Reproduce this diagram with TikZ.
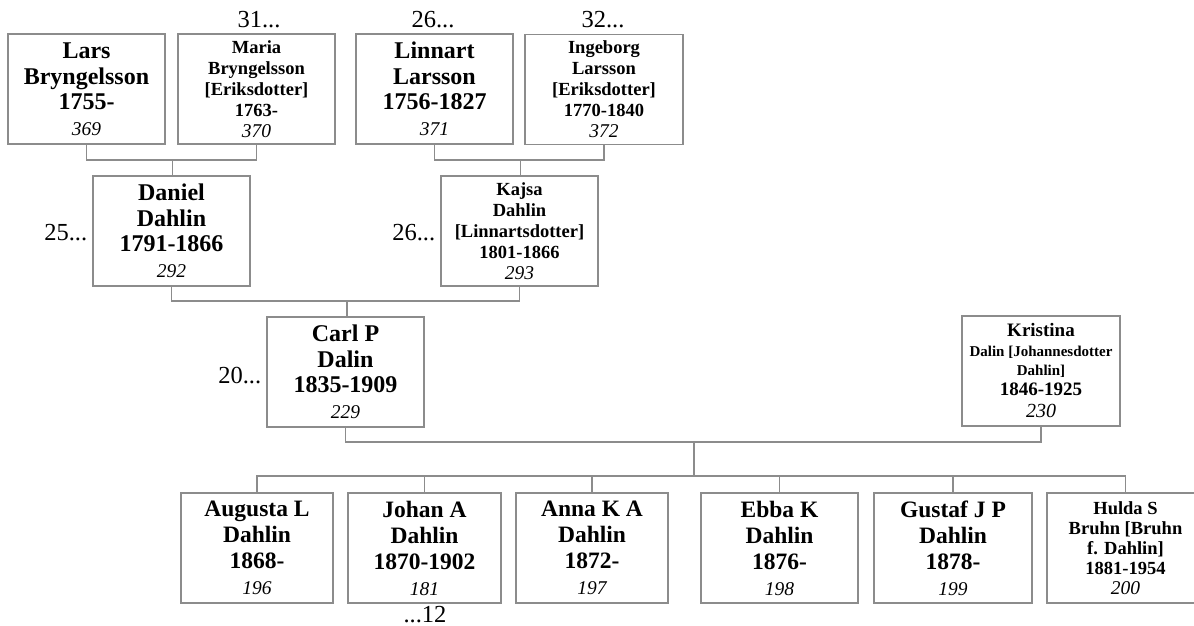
\documentclass[tikz,border=0pt]{standalone}
\usepackage{fontspec}
\setmainfont{Liberation Serif}
\definecolor{boxgray}{RGB}{140,140,140}
\newcommand{\pnum}[1]{{\fontsize{19.5}{19.5}\selectfont\itshape\mdseries #1}}
\newcommand{\pmid}[1]{{\fontsize{15}{17}\selectfont #1}}
\tikzset{
  person/.style={draw=boxgray, line width=1.3pt, rectangle, minimum height=110pt, inner sep=0pt, align=center},
  big/.style={person, font=\fontsize{24}{25.5}\selectfont\bfseries},
  kid/.style={person, font=\fontsize{23.5}{26}\selectfont\bfseries},
  small/.style={person, font=\fontsize{18.5}{21}\selectfont\bfseries},
  conn/.style={draw=boxgray, line width=1.3pt},
  ref/.style={inner sep=0pt, font=\fontsize{24.5}{24.5}\selectfont}
}
\begin{document}
\begin{tikzpicture}[x=1pt,y=-1pt]
\useasboundingbox (0,0) rectangle (1194,626);
\begin{scope}
\clip (0,0) rectangle (1194,626);
% top row
\node[big, minimum width=157pt] (lars) at (86.5,89) {Lars\\Bryngelsson\\1755-\\\pnum{369}};
\node[small, minimum width=157pt] (maria) at (256.5,89) {Maria\\Bryngelsson\\{[}Eriksdotter{]}\\1763-\\\pnum{370}};
\node[big, minimum width=157pt] (linnart) at (434.5,89) {Linnart\\Larsson\\1756-1827\\\pnum{371}};
\node[small, minimum width=158pt] (ingeborg) at (604,89.5) {Ingeborg\\Larsson\\{[}Eriksdotter{]}\\1770-1840\\\pnum{372}};
% second row
\node[big, minimum width=157pt] (daniel) at (171.5,231) {Daniel\\Dahlin\\1791-1866\\\pnum{292}};
\node[small, minimum width=157pt] (kajsa) at (519.5,231) {Kajsa\\Dahlin\\{[}Linnartsdotter{]}\\1801-1866\\\pnum{293}};
% third row
\node[big, minimum width=157pt] (carl) at (345.5,372) {Carl P\\Dalin\\1835-1909\\\pnum{229}};
\node[person, minimum width=158pt, font=\fontsize{19}{19.5}\selectfont\bfseries] (kristina) at (1041,371) {Kristina\\\pmid{Dalin [Johannesdotter}\\\pmid{Dahlin]}\\1846-1925\\[3pt]{\fontsize{20}{20}\selectfont\itshape\mdseries 230}};
% children
\node[kid, minimum width=152pt] (augusta) at (257,548) {Augusta L\\Dahlin\\1868-\\\pnum{196}};
\node[kid, minimum width=153pt] (johan) at (424.5,548) {Johan A\\Dahlin\\1870-1902\\\pnum{181}};
\node[kid, minimum width=152pt] (anna) at (592,548) {Anna K A\\Dahlin\\1872-\\\pnum{197}};
\node[kid, minimum width=157pt] (ebba) at (779.5,548) {Ebba K\\Dahlin\\1876-\\\pnum{198}};
\node[kid, minimum width=158pt] (gustaf) at (953,548) {Gustaf J P\\Dahlin\\1878-\\\pnum{199}};
\node[person, minimum width=157pt, font=\fontsize{18.5}{20}\selectfont\bfseries] (hulda) at (1125.5,548) {Hulda S\\Bruhn [Bruhn\\f. Dahlin]\\1881-1954\\\pnum{200}};
% reference labels
\node[ref] (r31) at (259,20) {31...};
\node[ref] (r26a) at (433,20) {26...};
\node[ref] (r32) at (603,20) {32...};
\node[ref, anchor=east] (r25) at ([xshift=-5pt,yshift=-2pt]daniel.west) {25...};
\node[ref, anchor=east] (r26b) at ([xshift=-5pt,yshift=-2pt]kajsa.west) {26...};
\node[ref, anchor=east] (r20) at ([xshift=-5pt,yshift=-4pt]carl.west) {20...};
\node[ref, anchor=base] (r12) at (425,622) {...12};
% connectors
\coordinate (j1) at (172.5,160);
\draw[conn] (lars.south) |- (j1) -| (maria.south);
\draw[conn] (j1) -- (j1 |- daniel.north);
\coordinate (j2) at (520.5,160);
\draw[conn] (linnart.south) |- (j2) -| (ingeborg.south);
\draw[conn] (j2) -- (j2 |- kajsa.north);
\coordinate (j3) at (347,301);
\draw[conn] (daniel.south) |- (j3) -| (kajsa.south);
\draw[conn] (j3) -- (j3 |- carl.north);
\coordinate (j4) at (694,442);
\draw[conn] (carl.south) |- (j4) -| (kristina.south);
\coordinate (j5) at (694,476);
\draw[conn] (j4) -- (j5);
\draw[conn] (augusta.north) |- (j5) -| (hulda.north);
\draw[conn] (johan.north) -- (johan.north |- j5);
\draw[conn] (anna.north) -- (anna.north |- j5);
\draw[conn] (ebba.north) -- (ebba.north |- j5);
\draw[conn] (gustaf.north) -- (gustaf.north |- j5);
\end{scope}
\end{tikzpicture}
\end{document}
